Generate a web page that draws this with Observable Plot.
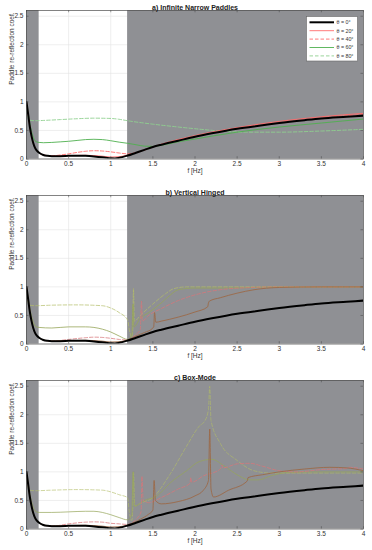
<!DOCTYPE html>
<html><head><meta charset="utf-8">
<script src="https://cdn.jsdelivr.net/npm/d3@7"></script>
<script src="https://cdn.jsdelivr.net/npm/@observablehq/plot@0.6"></script>
<style>
html,body{margin:0;padding:0;background:#fff;}
#chart svg{display:block;}
</style>
</head><body><div id="chart"></div>
<script>
const panelTitles = ["a) Infinite Narrow Paddles", "b) Vertical Hinged", "c) Box-Mode"];
const legendLabels = ["\u03b8 = 0\u00b0", "\u03b8 = 20\u00b0", "\u03b8 = 40\u00b0", "\u03b8 = 60\u00b0", "\u03b8 = 80\u00b0"];
const xTicks = [0, 0.5, 1, 1.5, 2, 2.5, 3, 3.5, 4];
const yTicks = [0, 0.5, 1, 1.5, 2, 2.5];
const shadeFrom = [0, 1.2];
const shadeTo = [0.15, 4];

// theta = 0 (same in all panels)
const f0 = [0,0.02,0.04,0.06,0.08,0.1,0.12,0.15,0.2,0.25,0.3,0.4,0.5,0.6,0.7,0.8,0.9,0.95,1.0,1.05,1.1,1.2,1.3,1.4,1.5,1.6,1.8,2.0,2.2,2.5,2.8,3.0,3.3,3.5,3.8,4.0];
const r0 = [1.0,0.78,0.56,0.4,0.28,0.2,0.15,0.11,0.07,0.055,0.05,0.05,0.055,0.058,0.055,0.045,0.03,0.02,0.012,0.01,0.02,0.06,0.11,0.16,0.21,0.25,0.32,0.39,0.45,0.53,0.59,0.63,0.68,0.71,0.74,0.76];

// Panel a
const fA20 = [0,0.02,0.04,0.06,0.08,0.1,0.12,0.15,0.2,0.3,0.5,0.7,0.8,0.9,1.0,1.1,1.2,1.4,1.6,2.0,2.5,3.0,3.5,4.0];
const rA20 = [1.0,0.78,0.56,0.4,0.28,0.2,0.15,0.11,0.07,0.055,0.06,0.065,0.06,0.05,0.035,0.04,0.07,0.16,0.26,0.41,0.55,0.66,0.74,0.8];
const fA40 = [0,0.02,0.04,0.06,0.08,0.1,0.12,0.15,0.2,0.3,0.4,0.5,0.6,0.7,0.8,0.9,1.0,1.1,1.2,1.3,1.5,2.0,2.5,3.0,3.5,4.0];
const rA40 = [1.0,0.78,0.56,0.4,0.28,0.2,0.15,0.11,0.07,0.055,0.07,0.09,0.115,0.135,0.145,0.14,0.125,0.105,0.09,0.11,0.21,0.4,0.54,0.64,0.72,0.78];
const fA60 = [0,0.02,0.04,0.06,0.08,0.1,0.12,0.15,0.2,0.3,0.4,0.5,0.6,0.7,0.8,0.9,1.0,1.1,1.2,1.3,1.4,1.5,1.6,1.8,2.0,2.5,3.0,3.5,4.0];
const rA60 = [1.0,0.8,0.62,0.48,0.38,0.32,0.3,0.29,0.285,0.29,0.3,0.31,0.325,0.34,0.345,0.34,0.32,0.295,0.275,0.25,0.225,0.22,0.24,0.3,0.35,0.47,0.56,0.63,0.7];
const fA80 = [0,0.01,0.02,0.04,0.1,0.2,0.4,0.6,0.8,1.0,1.1,1.2,1.5,1.8,2.0,2.3,2.6,3.0,3.5,4.0];
const rA80 = [0.95,0.8,0.72,0.68,0.67,0.675,0.69,0.705,0.715,0.71,0.695,0.67,0.61,0.56,0.53,0.49,0.47,0.47,0.49,0.52];

// Panel b
const fB20 = [0,0.02,0.04,0.06,0.08,0.1,0.12,0.15,0.2,0.3,0.5,0.7,0.8,0.9,1.0,1.1,1.2,1.3,1.4,1.5,1.51,1.52,1.535,1.6,1.8,2.0,2.15,2.16,2.17,2.3,2.5,2.7,3.0,3.5,4.0];
const rB20 = [1.0,0.78,0.56,0.4,0.28,0.2,0.15,0.11,0.07,0.055,0.06,0.065,0.06,0.05,0.035,0.04,0.07,0.14,0.2,0.28,0.3,0.55,0.38,0.4,0.47,0.56,0.65,0.72,0.75,0.81,0.89,0.95,0.99,1.0,1.0];
const fB40 = [0,0.02,0.04,0.06,0.08,0.1,0.12,0.15,0.2,0.3,0.5,0.7,0.8,0.9,1.0,1.1,1.2,1.3,1.35,1.365,1.375,1.45,1.6,1.8,2.0,2.3,2.6,3.0,4.0];
const rB40 = [1.0,0.78,0.56,0.4,0.28,0.2,0.15,0.11,0.07,0.05,0.08,0.11,0.12,0.115,0.1,0.08,0.07,0.17,0.25,0.75,0.4,0.5,0.62,0.76,0.86,0.95,0.985,1.0,1.0];
const fB60 = [0,0.02,0.04,0.06,0.08,0.1,0.12,0.15,0.3,0.5,0.7,0.8,0.9,1.0,1.1,1.2,1.25,1.265,1.275,1.35,1.45,1.6,1.7,1.8,2.0,2.4,2.7,3.0,4.0];
const rB60 = [1.0,0.8,0.62,0.48,0.38,0.32,0.3,0.29,0.28,0.3,0.3,0.29,0.26,0.21,0.14,0.08,0.15,0.7,0.3,0.45,0.55,0.72,0.85,0.95,0.98,0.98,0.99,1.0,1.0];
const fB80 = [0,0.01,0.02,0.04,0.1,0.3,0.6,0.9,1.0,1.1,1.2,1.22,1.25,1.26,1.27,1.28,1.35,1.5,1.65,1.75,1.9,4.0];
const rB80 = [0.95,0.8,0.72,0.68,0.67,0.68,0.685,0.67,0.63,0.55,0.42,0.25,0.12,0.2,0.97,0.4,0.5,0.7,0.88,0.97,1.0,1.0];

// Panel c
const fC20 = [0,0.02,0.04,0.06,0.08,0.1,0.12,0.15,0.2,0.3,0.5,0.7,0.8,0.9,1.0,1.1,1.2,1.35,1.45,1.5,1.515,1.53,1.6,1.8,2.0,2.1,2.16,2.175,2.19,2.22,2.4,2.62,2.63,2.8,3.0,3.3,3.6,3.8,4.0];
const rC20 = [1.0,0.78,0.56,0.4,0.28,0.2,0.15,0.11,0.07,0.055,0.06,0.065,0.06,0.05,0.035,0.04,0.07,0.17,0.26,0.33,0.85,0.5,0.44,0.48,0.58,0.68,0.85,1.75,0.7,0.56,0.68,0.84,0.9,0.95,1.0,1.05,1.08,1.07,1.02];
const fC40 = [0,0.02,0.04,0.06,0.08,0.1,0.12,0.15,0.2,0.3,0.5,0.7,0.8,0.9,1.0,1.1,1.2,1.3,1.36,1.37,1.385,1.45,1.6,1.8,1.94,1.95,1.96,2.1,2.3,2.32,2.33,2.5,2.65,2.8,3.0,3.2,3.5,3.8,3.82,4.0];
const rC40 = [1.0,0.78,0.56,0.4,0.28,0.2,0.15,0.11,0.07,0.05,0.09,0.12,0.125,0.12,0.1,0.09,0.08,0.17,0.3,0.92,0.5,0.46,0.55,0.7,0.8,0.9,0.82,0.93,1.05,1.12,1.07,1.14,1.15,1.1,1.02,1.0,1.04,1.06,1.08,1.05];
const fC60 = [0,0.02,0.04,0.06,0.08,0.1,0.12,0.15,0.3,0.5,0.7,0.8,0.9,1.0,1.1,1.2,1.25,1.265,1.28,1.4,1.55,1.7,1.9,2.05,2.2,2.35,2.5,2.65,2.75,2.9,3.1,3.5,4.0];
const rC60 = [1.0,0.8,0.62,0.48,0.38,0.32,0.3,0.29,0.29,0.3,0.31,0.31,0.29,0.25,0.2,0.16,0.25,1.0,0.4,0.5,0.58,0.8,1.02,1.18,1.22,1.1,0.95,0.86,0.86,0.93,0.99,1.0,1.0];
const fC80 = [0,0.01,0.02,0.04,0.1,0.3,0.6,0.9,1.0,1.1,1.2,1.22,1.25,1.26,1.27,1.285,1.35,1.5,1.7,1.9,2.05,2.12,2.16,2.175,2.19,2.3,2.5,2.7,2.9,3.2,3.6,4.0];
const rC80 = [0.95,0.8,0.72,0.68,0.67,0.68,0.69,0.68,0.65,0.6,0.55,0.3,0.15,0.3,1.0,0.4,0.45,0.55,0.95,1.45,1.8,1.9,2.1,2.5,1.9,1.5,1.2,1.02,0.98,0.98,0.98,0.98];

const rows = (f, r) => f.map((x, i) => ({f: x, r: r[i]}));
const bands = shadeFrom.map((a, i) => ({a, b: shadeTo[i]}));

const panels = [
  {series: [[f0, r0], [fA20, rA20], [fA40, rA40], [fA60, rA60], [fA80, rA80]],
   colors: ["#000000", "#ff6b6b", "#ff6b6b", "#4fb04f", "#8fd08f"], op: [1, 1, 1, 1, 1], top: 10, bottom: 21},
  {series: [[f0, r0], [fB20, rB20], [fB40, rB40], [fB60, rB60], [fB80, rB80]],
   colors: ["#000000", "#9c6a48", "#d8767a", "#97a65a", "#b2be68"], op: [1, 1, 0.85, 0.9, 0.8], top: 15, bottom: 22},
  {series: [[f0, r0], [fC20, rC20], [fC40, rC40], [fC60, rC60], [fC80, rC80]],
   colors: ["#000000", "#9c6a48", "#d8767a", "#97a65a", "#b2be68"], op: [1, 1, 0.85, 0.8, 0.7], top: 15, bottom: 22}
];
const dashes = [null, null, "3.5,2", null, "3.5,2"];
const widths = [2, 0.9, 0.9, 0.9, 0.9];
const plotH = 148.5;

const chart = document.getElementById("chart");
panels.forEach((p, pi) => {
  const lineMarks = [4, 3, 2, 1, 0].map(k => Plot.line(rows(p.series[k][0], p.series[k][1]), {
    x: "f", y: "r", stroke: p.colors[k], strokeWidth: widths[k], strokeOpacity: p.op[k],
    strokeDasharray: dashes[k], curve: "monotone-x", clip: true
  }));
  const svg = Plot.plot({
    width: 372, height: p.top + plotH + p.bottom,
    marginTop: p.top, marginBottom: p.bottom, marginLeft: 26, marginRight: 9,
    style: {fontFamily: "'Liberation Sans', Arial, sans-serif", fontSize: "6.5px", background: "#fff", color: "#333"},
    x: {domain: [0, 4]},
    y: {domain: [0, 2.6]},
    marks: [
      Plot.ruleX(xTicks, {x: d => d, stroke: "#e3e3e3", strokeWidth: 0.6}),
      Plot.ruleY(yTicks, {y: d => d, stroke: "#e3e3e3", strokeWidth: 0.6}),
      Plot.rect(bands, {x1: "a", x2: "b", y1: 0, y2: 2.6, fill: "#8f9094"}),
      ...lineMarks,
      Plot.ruleX(xTicks, {x: d => d, y1: 0, y2: 0.04, stroke: "#444", strokeWidth: 0.5}),
      Plot.ruleX(xTicks, {x: d => d, y1: 2.56, y2: 2.6, stroke: "#444", strokeWidth: 0.5}),
      Plot.ruleY(yTicks, {y: d => d, x1: 0, x2: 0.03, stroke: "#444", strokeWidth: 0.5}),
      Plot.ruleY(yTicks, {y: d => d, x1: 3.97, x2: 4, stroke: "#444", strokeWidth: 0.5}),
      Plot.frame({stroke: "#4d4d4d", strokeWidth: 0.7}),
      Plot.axisX(xTicks, {tickSize: 0, tickPadding: 2, tickFormat: d => String(d), label: null, fontSize: 6.5, fill: "#333"}),
      Plot.axisY(yTicks, {tickSize: 0, tickPadding: 3, tickFormat: d => String(d), label: null, fontSize: 6.5, fill: "#333"}),
      Plot.text([panelTitles[pi]], {text: d => d, frameAnchor: "top", dy: -5, fontWeight: "bold", fontSize: 7, fill: "#222"}),
      Plot.text(["f [Hz]"], {text: d => d, frameAnchor: "bottom", dy: 14, fontSize: 6.5, fill: "#333"}),
      Plot.text(["Paddle re-reflection coef."], {text: d => d, frameAnchor: "left", rotate: -90, dx: -15, fontSize: 6.5, fill: "#333"})
    ]
  });
  if (pi === 0) {
    const g = d3.select(svg).append("g");
    g.append("rect").attr("x", 306.5).attr("y", 16.5).attr("width", 51).attr("height", 44.5)
      .attr("fill", "#fff").attr("stroke", "#666").attr("stroke-width", 0.6);
    legendLabels.forEach((lab, k) => {
      const yy = 22.3 + k * 8.4;
      const ln = g.append("line").attr("x1", 309.5).attr("x2", 334).attr("y1", yy).attr("y2", yy)
        .attr("stroke", p.colors[k]).attr("stroke-width", k === 0 ? 2 : 0.9);
      if (dashes[k]) ln.attr("stroke-dasharray", dashes[k]);
      g.append("text").attr("x", 336.5).attr("y", yy).attr("dy", "0.35em")
        .attr("font-size", 5.3).attr("fill", "#333").attr("text-anchor", "start")
        .attr("font-family", "'Liberation Sans', Arial, sans-serif").text(lab);
    });
  }
  chart.appendChild(svg);
});
</script>
</body></html>
